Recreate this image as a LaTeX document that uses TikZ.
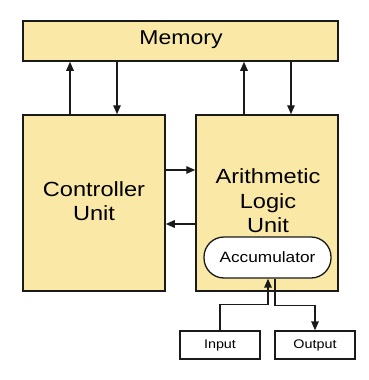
\documentclass[tikz,border=0pt]{standalone}
\usepackage{fontspec}
\setmainfont{Liberation Sans}[FakeStretch=1.15]
\usetikzlibrary{arrows.meta,calc}
\definecolor{boxfill}{HTML}{F9E8A6}
\definecolor{edge}{HTML}{1A1A1A}
\begin{document}
\begin{tikzpicture}[x=1pt,y=-1pt,
  unitbox/.style={draw=edge,line width=1.5pt,fill=boxfill,inner sep=0pt},
  iobox/.style={draw=edge,line width=1.3pt,fill=white,inner sep=0pt,minimum width=80pt,minimum height=28pt,font=\fontsize{12.5}{14}\selectfont},
  arr/.style={draw=edge,line width=1.4pt,-{Triangle[width=7.5pt,length=9pt]}},
  lbl/.style={align=center,inner sep=0pt,font=\fontsize{20.5}{24.5}\selectfont}]
\useasboundingbox (0,0) rectangle (369,380);
\node[unitbox,minimum width=315pt,minimum height=40pt] (mem) at (180.5,41) {};
\node[inner sep=0pt,font=\fontsize{20}{22}\selectfont] (memt) at (181,40) {Memory};
\node[unitbox,minimum width=142pt,minimum height=176pt] (ctrl) at (94,203) {};
\node[lbl] (ctrlt) at (94,201) {Controller\\Unit};
\node[unitbox,minimum width=142pt,minimum height=176pt] (alu) at (267,203) {};
\node[lbl] (alut) at (268,201) {Arithmetic\\Logic\\Unit};
\node[draw=edge,line width=1.3pt,fill=white,minimum width=127pt,minimum height=41pt,rounded corners=20pt,inner sep=0pt,font=\fontsize{15}{17}\selectfont] (acc) at (267.5,257.5) {Accumulator};
\node[iobox] (in) at (220,345) {Input};
\node[iobox] (out) at (315,345) {Output};
% memory arrows
\draw[arr] ([xshift=-24pt]ctrl.north) -- ([xshift=-24pt]ctrl.north |- mem.south);
\draw[arr] ([xshift=23pt]ctrl.north |- mem.south) -- ([xshift=23pt]ctrl.north);
\draw[arr] ([xshift=-23pt]alu.north) -- ([xshift=-23pt]alu.north |- mem.south);
\draw[arr] ([xshift=24pt]alu.north |- mem.south) -- ([xshift=24pt]alu.north);
% between units
\draw[arr] ([yshift=33pt]ctrl.east) -- ([yshift=33pt]ctrl.east -| alu.west);
\draw[arr] ([yshift=-21pt]ctrl.east -| alu.west) -- ([yshift=-21pt]ctrl.east);
% io
\draw[arr] (in.north) -- ++(0,-26) -| ([xshift=0.5pt]acc.south);
\draw[arr] ([xshift=7.5pt]acc.south) -- ++(0,27) -| (out.north);
\end{tikzpicture}
\end{document}
